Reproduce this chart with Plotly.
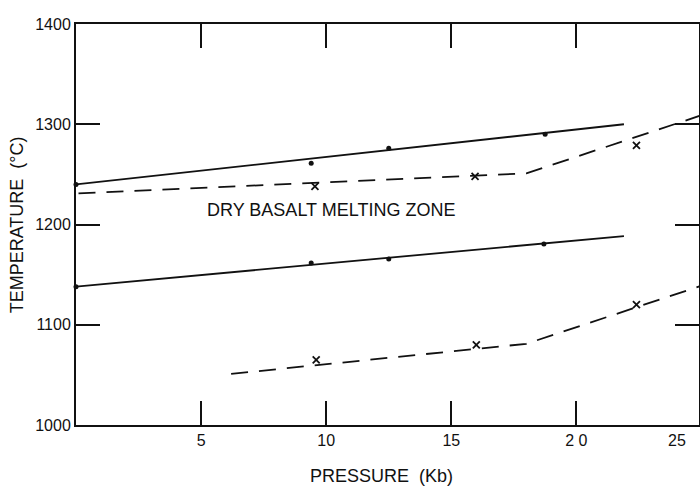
import plotly.graph_objects as go

# ---- data ----
# fitted solid lines
upper_solid_x = [0.0, 21.9]
upper_solid_y = [1240, 1300]
lower_solid_x = [0.0, 21.9]
lower_solid_y = [1138, 1188.5]

# experimental dots
upper_dots_x = [0.0, 9.4, 12.5, 18.75]
upper_dots_y = [1240, 1261, 1276, 1290]
lower_dots_x = [0.0, 9.4, 12.5, 18.7]
lower_dots_y = [1138, 1161.5, 1165.6, 1180.5]

# dashed curves
upper_dash_x = [0.1, 18.0, 25.0]
upper_dash_y = [1231, 1251, 1309]
lower_dash_x = [6.2, 18.0, 25.0]
lower_dash_y = [1051, 1081, 1139]

# cross markers
upper_cross_x = [9.55, 15.95, 22.4]
upper_cross_y = [1238, 1248, 1279]
lower_cross_x = [9.6, 16.0, 22.4]
lower_cross_y = [1065, 1080, 1120]

x_ticks = [5, 10, 15, 20]
x_ticktext = ["5", "10", "15", "2 0"]
y_ticks = [1000, 1100, 1200, 1300, 1400]
y_ticktext = ["1000", "1100", "1200", "1300", "1400"]

zone_label = "DRY BASALT MELTING ZONE"
zone_x, zone_y = 10.2, 1214.5

x_title = "PRESSURE  (Kb)"
y_title = "TEMPERATURE  (°C)"

FONT = "Liberation Sans"
BLACK = "#111111"

fig = go.Figure()

for xs, ys in [(upper_solid_x, upper_solid_y), (lower_solid_x, lower_solid_y)]:
    fig.add_trace(go.Scatter(x=xs, y=ys, mode="lines",
                             line=dict(color=BLACK, width=1.8), hoverinfo="skip"))

for xs, ys in [(upper_dash_x, upper_dash_y), (lower_dash_x, lower_dash_y)]:
    fig.add_trace(go.Scatter(x=xs, y=ys, mode="lines",
                             line=dict(color=BLACK, width=1.8, dash="17px,11px"),
                             hoverinfo="skip"))

for xs, ys in [(upper_dots_x, upper_dots_y), (lower_dots_x, lower_dots_y)]:
    fig.add_trace(go.Scatter(x=xs, y=ys, mode="markers",
                             marker=dict(color=BLACK, size=5, symbol="circle"),
                             cliponaxis=False))

for xs, ys in [(upper_cross_x, upper_cross_y), (lower_cross_x, lower_cross_y)]:
    fig.add_trace(go.Scatter(x=xs, y=ys, mode="markers",
                             marker=dict(color=BLACK, size=7, symbol="x-thin",
                                         line=dict(color=BLACK, width=1.8))))

fig.add_annotation(x=zone_x, y=zone_y, xref="x", yref="y", text=zone_label,
                   showarrow=False, font=dict(family=FONT, size=18, color=BLACK))

# last x tick label, cut at the right edge as in the reference
fig.add_annotation(x=0.983, y=0, xref="paper", yref="paper", yanchor="top",
                   yshift=-5, text="25", showarrow=False,
                   font=dict(family=FONT, size=16, color=BLACK))

# axis titles
fig.add_annotation(x=0.49, y=-0.128, xref="paper", yref="paper",
                   xanchor="center", yanchor="middle", text=x_title, showarrow=False,
                   font=dict(family=FONT, size=18, color=BLACK))
fig.add_annotation(x=-0.095, y=0.5, xref="paper", yref="paper", textangle=-90,
                   xanchor="center", yanchor="middle", text=y_title, showarrow=False,
                   font=dict(family=FONT, size=18, color=BLACK))

fig.update_layout(
    width=700, height=487,
    margin=dict(l=76, r=1, t=24, b=62),
    paper_bgcolor="white", plot_bgcolor="white",
    showlegend=False,
    font=dict(family=FONT, color=BLACK),
)

fig.update_xaxes(
    range=[0, 24.9], tickvals=x_ticks, ticktext=x_ticktext,
    ticks="inside", ticklen=24, tickwidth=1.8, tickcolor=BLACK,
    showline=True, linewidth=2, linecolor=BLACK, mirror="ticks",
    showgrid=False, zeroline=False, automargin=False,
    tickfont=dict(family=FONT, size=16, color=BLACK),
    ticklabelstandoff=0,
)
fig.update_yaxes(
    range=[1000, 1400], tickvals=y_ticks, ticktext=y_ticktext,
    ticks="inside", ticklen=24, tickwidth=1.8, tickcolor=BLACK,
    showline=True, linewidth=2, linecolor=BLACK, mirror="ticks",
    showgrid=False, zeroline=False, automargin=False,
    tickfont=dict(family=FONT, size=16, color=BLACK),
    ticklabelstandoff=0,
)

fig.write_html("out.html", config={"displayModeBar": False},
               post_script="document.body.style.margin='0';document.body.style.overflow='hidden';")
